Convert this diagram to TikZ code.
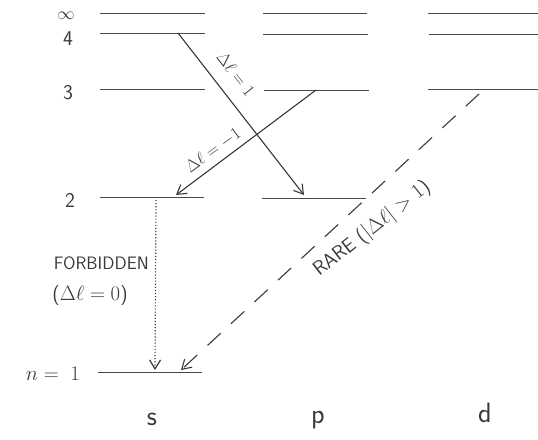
\documentclass[tikz,border=0pt]{standalone}
\usepackage{fontspec}
\usetikzlibrary{arrows.meta}
\definecolor{lvlcol}{HTML}{4A4A4A}
\definecolor{inkcol}{HTML}{3A3A3A}
\begin{document}
\begin{tikzpicture}[x=1pt,y=-1pt,
  lvl/.style={draw=lvlcol, line width=1pt},
  trans/.style={draw=inkcol, line width=1.1pt, -{Straight Barb[length=9pt,width=11pt]}},
  lab/.style={text=inkcol, font=\sffamily\fontsize{17}{19}\selectfont, inner sep=1pt},
  numlab/.style={text=inkcol, font=\sffamily\fontsize{21}{23}\selectfont, inner sep=0pt},
  orb/.style={text=inkcol, font=\sffamily\fontsize{28}{30}\selectfont, inner sep=0pt},
]
\useasboundingbox[fill=white] (0,0) rectangle (538,439);
% level end points
\coordinate (sInfL) at (100,13);  \coordinate (sInfR) at (205,13);
\coordinate (pInfL) at (263,13);  \coordinate (pInfR) at (367,13);
\coordinate (dInfL) at (428,13);  \coordinate (dInfR) at (538,13);
\coordinate (s4L) at (100,33);  \coordinate (s4R) at (205,33);
\coordinate (p4L) at (263,34);  \coordinate (p4R) at (368,34);
\coordinate (d4L) at (429,34);  \coordinate (d4R) at (538,34);
\coordinate (s3L) at (100,89);  \coordinate (s3R) at (205,89);
\coordinate (p3L) at (264,90);  \coordinate (p3R) at (369,90);
\coordinate (d3L) at (428,89);  \coordinate (d3R) at (538,89);
\coordinate (s2L) at (100,197); \coordinate (s2R) at (204,197);
\coordinate (p2L) at (262,198); \coordinate (p2R) at (366,198);
\coordinate (s1L) at (98,372);  \coordinate (s1R) at (202,372);
% levels
\foreach \a/\b in {sInfL/sInfR,pInfL/pInfR,dInfL/dInfR,s4L/s4R,p4L/p4R,d4L/d4R,
                   s3L/s3R,p3L/p3R,d3L/d3R,s2L/s2R,p2L/p2R,s1L/s1R}
  \draw[lvl] (\a) -- (\b);
% level labels
\node[numlab, font=\sffamily\fontsize{18}{20}\selectfont] (linf) at (66,16) {$\infty$};
\node[numlab] (l4) at (68,39) {4};
\node[numlab] (l3) at (68,93) {3};
\node[numlab] (l2) at (70,200) {2};
\node[numlab, anchor=east] (l1) at (80,374) {$n=\;1$};
% orbital labels
\node[orb] (os) at (152,419) {s};
\node[orb] (op) at (318,420) {p};
\node[orb] (od) at (485,413) {d};
% transition end points
\coordinate (t1a) at (178,33);  \coordinate (t1b) at (304,195);
\coordinate (t2a) at (316,90);  \coordinate (t2b) at (176,195);
\coordinate (t3a) at (156,200); \coordinate (t3b) at (155,370);
\coordinate (t4a) at (479,94);  \coordinate (t4b) at (181,370);
% transitions
\draw[trans] (t1a) -- (t1b);
\draw[trans] (t2a) -- (t2b);
\draw[trans, dotted, line width=1.2pt] (t3a) -- (t3b);
\draw[trans, dash pattern=on 18pt off 14pt] (t4a) -- (t4b);
% transition labels
\node[lab, rotate=-52] (lab1) at (236,74) {$\Delta\ell=1$};
\node[lab, rotate=36] (lab2) at (213,150) {$\Delta\ell=-1$};
\node[lab, anchor=east, font=\sffamily\fontsize{18}{20}\selectfont] (lab3) at (150,263) {FORBIDDEN};
\node[lab, font=\sffamily\fontsize{20}{22}\selectfont] (lab3b) at (90,296) {($\Delta\ell=0$)};
\node[lab, rotate=38, font=\sffamily\fontsize{20}{22}\selectfont] (lab4) at (372,229) {RARE ($|\Delta\ell|>1$)};
\end{tikzpicture}
\end{document}
